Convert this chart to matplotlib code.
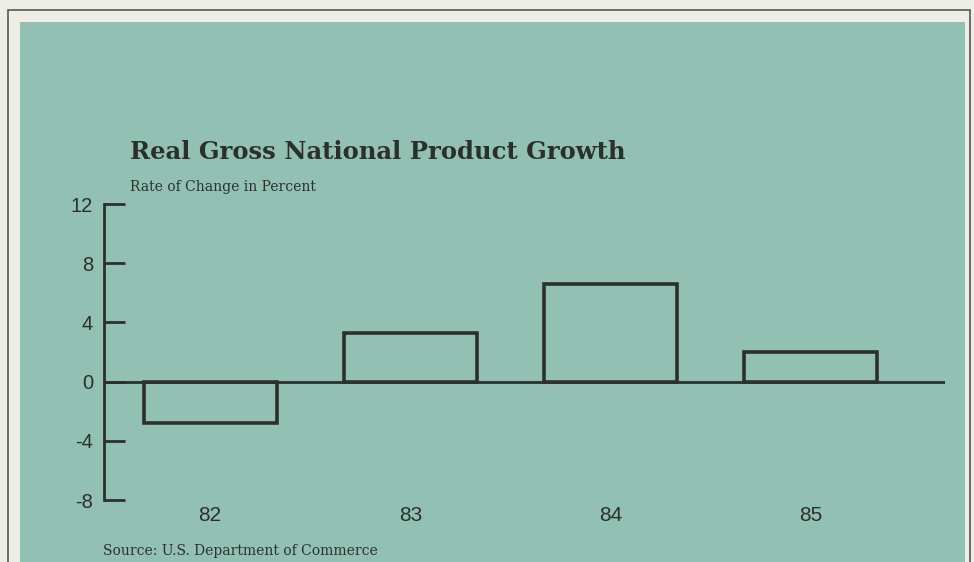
import numpy as np
import matplotlib.pyplot as plt
from matplotlib.patches import Rectangle

years = ['82', '83', '84', '85']
growth = [-2.8, 3.3, 6.6, 2.0]
yticks = [-8, -4, 0, 4, 8, 12]

ink = '#2b302f'
teal = '#92c0b3'
page = '#efeee6'

W, H = 974, 562
fig = plt.figure(figsize=(W / 100, H / 100), dpi=100)
fig.patch.set_facecolor(page)

# page frame and teal panel, kept behind the axes
fig.patches.append(Rectangle((8 / W, -0.05), 962 / W, 1.05 - 10 / H, transform=fig.transFigure,
                             facecolor='none', edgecolor='#555a58', lw=1.2, zorder=-2))
fig.patches.append(Rectangle((20 / W, -0.05), 945 / W, 1.05 - 22 / H, transform=fig.transFigure,
                             facecolor=teal, edgecolor='none', zorder=-1))

ax = fig.add_axes([104 / W, 1 - 500 / H, 841 / W, 296 / H])
ax.set_facecolor('none')

x = np.arange(len(years))
ax.bar(x, growth, width=0.665, facecolor='none', edgecolor=ink, lw=2.6, zorder=3)
ax.axhline(0, color=ink, lw=2, zorder=2)

ax.set_xlim(-0.53, 3.67)
ax.set_ylim(-8, 12)
ax.set_yticks(yticks)
ax.set_yticklabels([str(v) for v in yticks], fontsize=14.5, color=ink,
                   family='Liberation Sans')
ax.set_xticks(x)
ax.set_xticklabels(years, fontsize=15, color=ink, family='Liberation Sans')
ax.tick_params(axis='y', direction='in', length=15, width=2, color=ink, pad=8)
ax.tick_params(axis='x', length=0, pad=4)
for s in ['top', 'right', 'bottom']:
    ax.spines[s].set_visible(False)
ax.spines['left'].set_color(ink)
ax.spines['left'].set_linewidth(2)

fig.text(130 / W, 1 - 152 / H, 'Real Gross National Product Growth', fontsize=17.5,
         fontweight='bold', family='DejaVu Serif', color=ink, va='center', ha='left')
fig.text(130 / W, 1 - 187 / H, 'Rate of Change in Percent', fontsize=10,
         family='DejaVu Serif', color=ink, va='center', ha='left')
fig.text(103 / W, 1 - 551 / H, 'Source: U.S. Department of Commerce', fontsize=10,
         family='DejaVu Serif', color=ink, va='center', ha='left')

fig.savefig('out.png', dpi=100, facecolor=fig.get_facecolor())
